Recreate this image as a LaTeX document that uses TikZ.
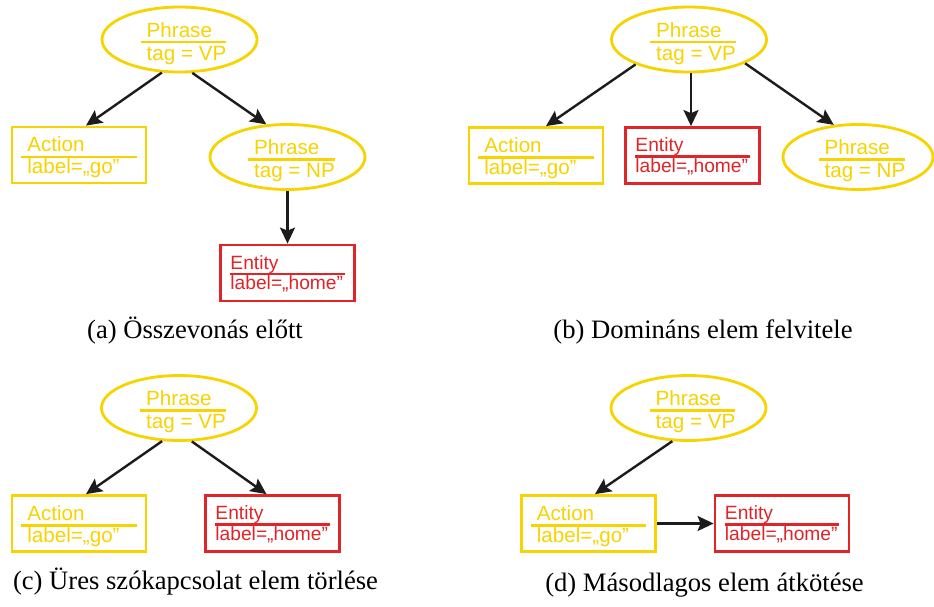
\documentclass[tikz,border=0pt]{standalone}
\usepackage{fontspec}
\setmainfont{Liberation Serif}
\newfontfamily\lsans{Liberation Sans}
\usetikzlibrary{shapes.geometric,arrows.meta}

\definecolor{nodeyellow}{RGB}{247,211,0}
\definecolor{nodered}{RGB}{224,36,40}
\definecolor{arrowgray}{RGB}{30,27,28}

% Two-line record: #1 left pad, #2 right pad, #3 baseline-to-rule, #4 rule-to-baseline,
% #5 rule offset below the node centre, #6 upper text, #7 lower text
\newcommand\rec[7]{%
  \vbox{\offinterlineskip
    \setbox0\hbox{\hskip#1\relax #6\hskip#2\relax}%
    \setbox2\hbox{\hskip#1\relax #7\hskip#2\relax}%
    \dimen0=\dimexpr #4+#5+#5-#3\relax
    \ht0=\dimen0 \dp0=0pt \ht2=0pt \dp2=0pt
    \box0
    \kern\dimexpr #3-1.2pt\relax
    \hrule height 2.4pt
    \kern\dimexpr #4-1.2pt\relax
    \box2}}
\newcommand\recell[2]{\hskip8pt\rec{6pt}{0pt}{5pt}{18pt}{2.5pt}{#1}{#2}}
\newcommand\recact[2]{\rec{6pt}{17pt}{5.3pt}{16.5pt}{2pt}{#1}{#2}}
\newcommand\recent[2]{\rec{0pt}{1.5pt}{4.7pt}{15.5pt}{1pt}{#1}{#2}}

\tikzset{
  phr/.style={ellipse, draw=nodeyellow, text=nodeyellow, line width=2.8pt,
    minimum width=155pt, minimum height=65pt, inner sep=0pt,
    font=\lsans\fontsize{20.6}{24}\selectfont},
  act/.style={rectangle, draw=nodeyellow, text=nodeyellow, line width=2.8pt,
    minimum width=134pt, minimum height=56pt, inner sep=0pt,
    font=\lsans\fontsize{20.6}{24}\selectfont},
  ent/.style={rectangle, draw=nodered, text=nodered, line width=2.8pt,
    minimum width=134pt, minimum height=56pt, inner sep=0pt,
    font=\lsans\fontsize{19.2}{22}\selectfont},
  link/.style={draw=arrowgray, line width=2.4pt,
    -{Stealth[length=16pt,width=15pt,inset=3pt]}},
  captext/.style={anchor=base, text=black, font=\fontsize{26.6}{30}\selectfont},
}

\begin{document}
\begin{tikzpicture}[x=1pt,y=-1pt]
  \useasboundingbox (0,0) rectangle (934,606);
  \fill[white] (0,0) rectangle (934,606);

  % (a) before merging
  \node[phr] (ta) at (179.5,39.5) {\recell{Phrase}{tag = VP}};
  \node[act] (aa) at (79,155) {\recact{Action}{label=„go”}};
  \node[phr] (na) at (287.5,157) {\recell{Phrase}{tag = NP}};
  \node[ent] (ea) at (287.5,273) {\recent{Entity}{label=„home”}};
  \draw[link] (ta.242) -- ([xshift=7pt]aa.north);
  \draw[link] (ta.291) -- (na.123);
  \draw[link] (na.south) -- (ea.north);
  \node[captext] (capa) at (195,338) {(a) Összevonás előtt};

  % (b) dominant element raised
  \node[phr] (tb) at (689,39.5) {\recell{Phrase}{tag = VP}};
  \node[act] (ab) at (536,155.5) {\recact{Action}{label=„go”}};
  \node[ent] (eb) at (692.5,155.5) {\recent{Entity}{label=„home”}};
  \node[phr, minimum width=150pt] (nb) at (858,157) {\recell{Phrase}{tag = NP}};
  \draw[link] (tb.205) -- ([xshift=10pt]ab.north);
  \draw[link] ([xshift=2pt]tb.south) -- ([xshift=2pt]tb.south |- eb.north);
  \draw[link] (tb.337) -- (nb.127);
  \node[captext] (capb) at (703,338) {(b) Domináns elem felvitele};

  % (c) empty phrase removed
  \node[phr] (tc) at (179,408) {\recell{Phrase}{tag = VP}};
  \node[act] (ac) at (79,523.5) {\recact{Action}{label=„go”}};
  \node[ent] (ec) at (272.5,523.5) {\recent{Entity}{label=„home”}};
  \draw[link] (tc.243) -- ([xshift=7pt]ac.north);
  \draw[link] (tc.291) -- ([xshift=-6pt]ec.north);
  \node[captext] (capc) at (195.5,589) {(c) Üres szókapcsolat elem törlése};

  % (d) secondary element relinked
  \node[phr] (td) at (688.5,408) {\recell{Phrase}{tag = VP}};
  \node[act] (ad) at (588.5,523.5) {\recact{Action}{label=„go”}};
  \node[ent] (ed) at (782,523.5) {\recent{Entity}{label=„home”}};
  \draw[link] (td.244) -- ([xshift=6.5pt]ad.north);
  \draw[link] (ad.east) -- (ed.west);
  \node[captext] (capd) at (704.5,591) {(d) Másodlagos elem átkötése};
\end{tikzpicture}
\end{document}
